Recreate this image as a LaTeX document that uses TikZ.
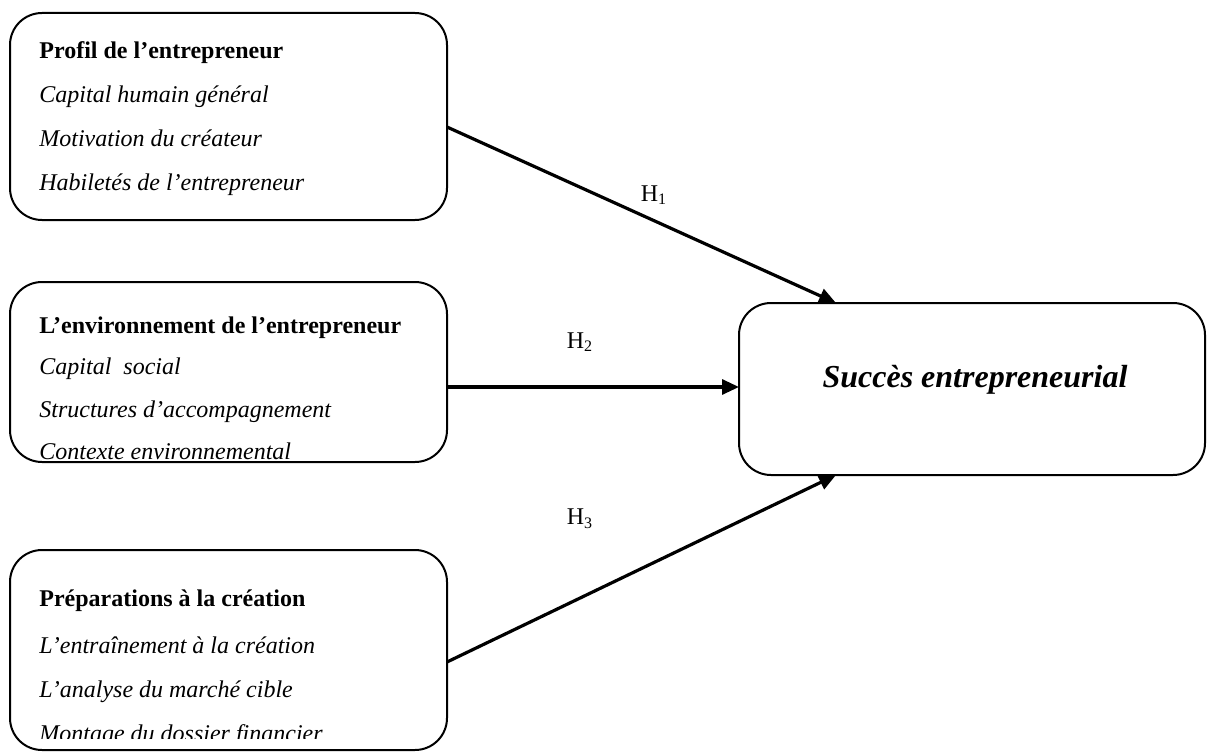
\documentclass[tikz,border=0pt]{standalone}
\usepackage{fontspec}
\setmainfont{Liberation Serif}
\usetikzlibrary{arrows.meta}
\begin{document}
\begin{tikzpicture}[x=0.5pt,y=-0.5pt,
  box/.style={draw, line width=1pt, rounded corners=16pt, inner sep=0pt},
  ttl/.style={anchor=west, font=\fontsize{12}{14}\selectfont\bfseries, inner sep=0pt, text height=8pt, text depth=2.6pt},
  itm/.style={anchor=west, font=\fontsize{12}{14}\selectfont\itshape, inner sep=0pt, text height=8pt, text depth=2.6pt},
  lbl/.style={font=\fontsize{12}{14}\selectfont, inner sep=0pt},
  arr/.style={line width=1.6pt, -{Triangle[length=8.5pt,width=7.5pt]}}]
\useasboundingbox (0,0) rectangle (1208,754);

% boxes
\node[box, minimum width=218.5pt, minimum height=103.5pt] (b1) at (228.5,116.5) {};
\node[box, minimum width=218.5pt, minimum height=90pt] (b2) at (228.5,372) {};
\node[box, minimum width=218.5pt, minimum height=100pt] (b3) at (228.5,650) {};
\node[box, minimum width=233pt, minimum height=86pt] (goal) at (972,389) {};

% box 1 text
\node[ttl] (t1) at (39,53) {Profil de l’entrepreneur};
\node[itm] (t1a) at (39,97) {Capital humain général};
\node[itm] (t1b) at (39,141) {Motivation du créateur};
\node[itm] (t1c) at (39,185) {Habiletés de l’entrepreneur};

% box 2 text
\node[ttl] (t2) at (39,328) {L’environnement de l’entrepreneur};
\node[itm] (t2a) at (39,369) {Capital\ \ social};
\node[itm] (t2b) at (39,412) {Structures d’accompagnement};
\node[itm] (t2c) at (39,454) {Contexte environnemental};

% box 3 text (clipped)
\begin{scope}
\clip (12,552) rectangle (446,738);
\node[ttl] (t3) at (39,601) {Préparations à la création};
\node[itm] (t3a) at (39,648) {L’entraînement à la création};
\node[itm] (t3b) at (39,692) {L’analyse du marché cible};
\node[itm] (t3c) at (39,736) {Montage du dossier financier};
\end{scope}

% goal text
\node[font=\fontsize{16}{19}\selectfont\bfseries\itshape, inner sep=0pt] (gt) at (975,380) {Succès entrepreneurial};

% connector end points
\coordinate (s1) at (447,127);
\coordinate (e1) at (836,303);
\coordinate (s2) at (447,387);
\coordinate (e2) at (739,387);
\coordinate (s3) at (447,662);
\coordinate (e3) at (836,475);

\draw[arr] (s1) -- (e1);
\draw[arr] (s2) -- (e2);
\draw[arr] (s3) -- (e3);

% labels
\node[lbl] (h1) at (654,195) {H\textsubscript{1}};
\node[lbl] (h2) at (580,342) {H\textsubscript{2}};
\node[lbl] (h3) at (580,519) {H\textsubscript{3}};
\end{tikzpicture}
\end{document}
